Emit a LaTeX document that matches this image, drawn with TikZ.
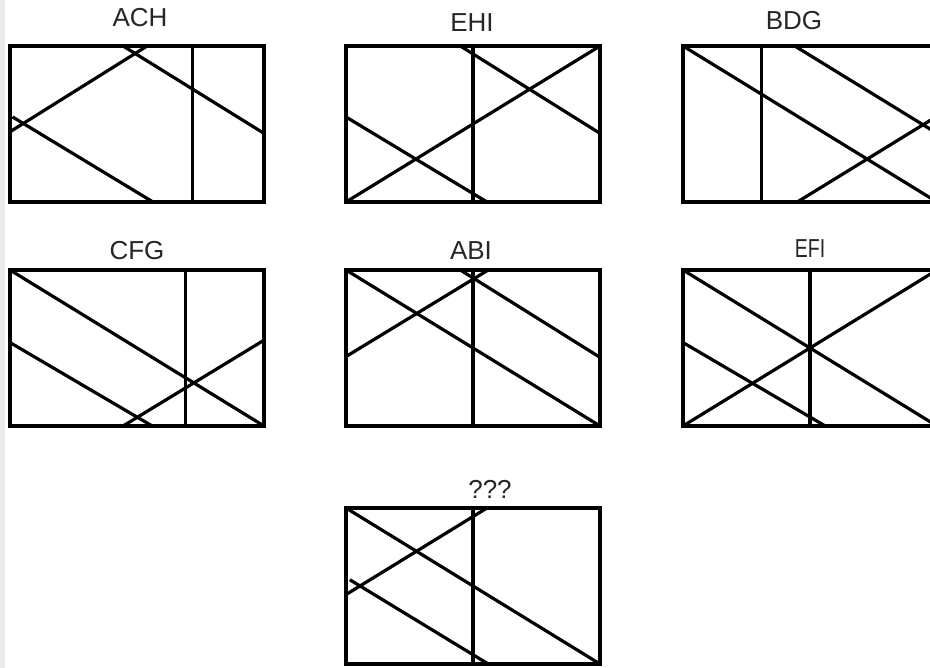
\documentclass[tikz,border=0pt]{standalone}
\usepackage{fontspec}
\setmainfont{Liberation Sans}

\begin{document}
\begin{tikzpicture}[x=1pt, y=1pt,
    frame/.style={line width=3.4pt},
    cut/.style={line width=3.2pt},
    title/.style={anchor=base, inner sep=0pt, text=black!85, font=\fontsize{26}{30}\selectfont}]

\useasboundingbox (0,0) rectangle (930,668);
\fill[black!8] (0,0) rectangle (5,668);

% Panel 1: ACH
\begin{scope}[shift={(10pt,466pt)}, x=254pt, y=156pt]
    \draw[frame] (0,0) rectangle (1,1);
    \draw[cut] (0.72,0) -- (0.72,1);
    \draw[cut] (0,0.45) -- (0.54,1);
    \draw[cut] (0.445,1) -- (1,0.44);
    \draw[cut] (0.01,0.545) -- (0.563,0);
    \node[title] (t1) at (0.512,1.122) {ACH};
\end{scope}

% Panel 2: EHI
\begin{scope}[shift={(346pt,466pt)}, x=254pt, y=156pt]
    \draw[frame] (0,0) rectangle (1,1);
    \draw[cut] (0.5,0) -- (0.5,1);
    \draw[cut] (0,0) -- (1,1);
    \draw[cut] (0.45,1) -- (1,0.44);
    \draw[cut] (0,0.545) -- (0.555,0);
    \node[title] (t2) at (0.496,1.096) {EHI};
\end{scope}

% Panel 3: BDG
\begin{scope}[shift={(683pt,466pt)}, x=254pt, y=156pt]
    \draw[frame] (0,0) rectangle (1,1);
    \draw[cut] (0.31,0) -- (0.31,1);
    \draw[cut] (0,1) -- (1,0);
    \draw[cut] (0.44,1) -- (1,0.44);
    \draw[cut] (0.45,0) -- (1,0.55);
    \node[title] (t3) at (0.437,1.103) {BDG};
\end{scope}

% Panel 4: CFG
\begin{scope}[shift={(10pt,242pt)}, x=254pt, y=156pt]
    \draw[frame] (0,0) rectangle (1,1);
    \draw[cut] (0.69,0) -- (0.69,1);
    \draw[cut] (0,1) -- (1,0);
    \draw[cut] (0,0.535) -- (0.56,0);
    \draw[cut] (0.445,0) -- (1,0.55);
    \node[title] (t4) at (0.5,1.07) {CFG};
\end{scope}

% Panel 5: ABI
\begin{scope}[shift={(346pt,242pt)}, x=254pt, y=156pt]
    \draw[frame] (0,0) rectangle (1,1);
    \draw[cut] (0.5,0) -- (0.5,1);
    \draw[cut] (0,1) -- (1,0);
    \draw[cut] (0,0.445) -- (0.56,1);
    \draw[cut] (0.45,1) -- (1,0.44);
    \node[title] (t5) at (0.492,1.07) {ABI};
\end{scope}

% Panel 6: EFI
\begin{scope}[shift={(683pt,242pt)}, x=254pt, y=156pt]
    \draw[frame] (0,0) rectangle (1,1);
    \draw[cut] (0.5,0) -- (0.5,1);
    \draw[cut] (0,1) -- (1,0);
    \draw[cut] (0,0) -- (1,1);
    \draw[cut] (0,0.535) -- (0.56,0);
    \node[title] (t6) at (0.5,1.077) {\scalebox{0.75}[1]{EFI}};
\end{scope}

% Panel 7: the open one
\begin{scope}[shift={(346pt,4pt)}, x=254pt, y=156pt]
    \draw[frame] (0,0) rectangle (1,1);
    \draw[cut] (0.5,0) -- (0.5,1);
    \draw[cut] (0,1) -- (1,0);
    \draw[cut] (0,0.445) -- (0.555,1);
    \draw[cut] (0.015,0.54) -- (0.56,0);
    \node[title] (t7) at (0.567,1.058) {???};
\end{scope}

\end{tikzpicture}
\end{document}
